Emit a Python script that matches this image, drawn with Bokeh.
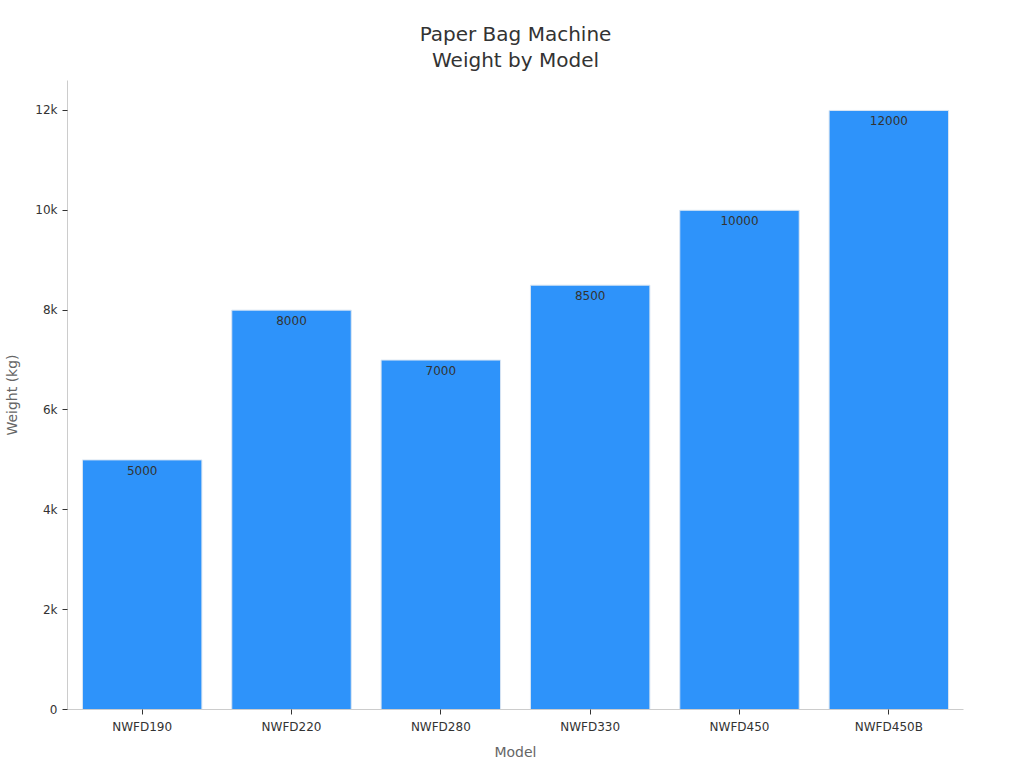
from bokeh.plotting import figure
from bokeh.models import ColumnDataSource, Range1d, CustomJSTickFormatter, Title
from bokeh.core.properties import value
from bokeh.embed import file_html
from bokeh.resources import INLINE

models = ["NWFD190", "NWFD220", "NWFD280", "NWFD330", "NWFD450", "NWFD450B"]
weights = [5000, 8000, 7000, 8500, 10000, 12000]
labels = [str(w) for w in weights]
title_lines = ["Paper Bag Machine", "Weight by Model"]

src = ColumnDataSource(dict(m=models, w=weights, t=labels))

FONT = "DejaVu Sans"

p = figure(x_range=models, y_range=Range1d(0, 12600), width=1016, height=762,
           output_backend="svg", toolbar_location=None,
           min_border_left=67, min_border_right=53, min_border_top=80, min_border_bottom=52)

standoffs = [-16, 17]
for line, so in reversed(list(zip(title_lines, standoffs))):
    t = Title(text=line, align="center", text_font=FONT, text_font_size="20px",
              text_font_style="normal", text_color="#333333", standoff=so)
    p.add_layout(t, "above")

p.vbar(x="m", top="w", width=0.8, source=src, fill_color="#2E93FA",
       line_color="#dbe6f2", line_width=1)
p.text(x="m", y="w", text="t", source=src, text_align="center", text_baseline="top",
       y_offset=6, text_font_size="12px", text_color="#333333", text_font=value(FONT))

p.xgrid.visible = False
p.ygrid.visible = False
p.outline_line_color = None

p.yaxis.formatter = CustomJSTickFormatter(code="return tick == 0 ? '0' : (tick/1000) + 'k';")
p.yaxis.ticker.desired_num_ticks = 7

for ax in (p.xaxis, p.yaxis):
    ax.axis_line_color = "#cccccc"
    ax.major_tick_line_color = "#333333"
    ax.major_tick_out = 5
    ax.major_tick_in = 0
    ax.minor_tick_line_color = None
    ax.major_label_text_font = FONT
    ax.major_label_text_font_size = "12px"
    ax.major_label_text_color = "#333333"
    ax.axis_label_text_font = FONT
    ax.axis_label_text_font_size = "14px"
    ax.axis_label_text_font_style = "normal"
    ax.axis_label_text_color = "#666666"

p.xaxis.axis_label = "Model"
p.yaxis.axis_label = "Weight (kg)"
p.xaxis.axis_label_standoff = 7
p.yaxis.axis_label_standoff = 12
p.x_range.range_padding = 0

open("out.html", "w").write(file_html(p, INLINE))
